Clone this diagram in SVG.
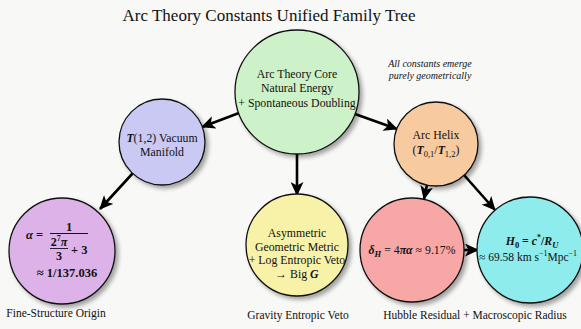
<svg xmlns="http://www.w3.org/2000/svg" width="581" height="329" viewBox="0 0 581 329">
<style>
text{font-family:"Liberation Serif","Times New Roman",serif;fill:#111}
.t{font-size:11.8px;text-anchor:middle}
.lab{font-size:11.5px;text-anchor:middle}
.node{stroke:#111;stroke-width:1.3}
.conn{stroke:#000;stroke-width:2.6;fill:none}
.bi{font-weight:bold;font-style:italic}
.b{font-weight:bold}
.it{font-style:italic}
</style>
<defs>
<marker id="ah" markerUnits="userSpaceOnUse" markerWidth="15" markerHeight="13" refX="13" refY="6.5" orient="auto">
<path d="M0,0 L14,6.5 L0,13 L3.5,6.5 Z" fill="#000"/>
</marker>
<filter id="sh" x="-20%" y="-20%" width="150%" height="150%">
<feGaussianBlur in="SourceAlpha" stdDeviation="2"/>
<feOffset dx="2.5" dy="2.5" result="o"/>
<feComponentTransfer><feFuncA type="linear" slope="0.35"/></feComponentTransfer>
<feMerge><feMergeNode/><feMergeNode in="SourceGraphic"/></feMerge>
</filter>
</defs>
<rect width="581" height="329" fill="#f8f8f6"/>
<text x="269" y="21" style="font-size:17px;text-anchor:middle">Arc Theory Constants Unified Family Tree</text>
<g id="connectors">
<line class="conn" x1="239" y1="113" x2="202" y2="127" marker-end="url(#ah)"/>
<line class="conn" x1="355" y1="114" x2="397" y2="129" marker-end="url(#ah)"/>
<line class="conn" x1="297" y1="154" x2="297" y2="195" marker-end="url(#ah)"/>
<line class="conn" x1="133" y1="173" x2="100" y2="209" marker-end="url(#ah)"/>
<line class="conn" x1="427" y1="185" x2="424" y2="199" marker-end="url(#ah)"/>
<line class="conn" x1="464" y1="175" x2="495" y2="210" marker-end="url(#ah)"/>
<line class="conn" x1="464" y1="250" x2="478" y2="250" marker-end="url(#ah)"/>
</g>
<g id="core">
<circle class="node" cx="297" cy="92" r="62" fill="#cdf1c8" filter="url(#sh)"/>
<text class="t" x="297" y="78">Arc Theory Core</text>
<text class="t" x="297" y="92">Natural Energy</text>
<text class="t" x="297" y="107">+ Spontaneous Doubling</text>
</g>
<g id="note">
<text x="430" y="67" class="it" style="font-size:10px;text-anchor:middle">All constants emerge</text>
<text x="430" y="79" class="it" style="font-size:10px;text-anchor:middle">purely geometrically</text>
</g>
<g id="vacuum">
<circle class="node" cx="162" cy="142" r="43" fill="#c9c9f4" filter="url(#sh)"/>
<text class="t" x="162" y="142"><tspan class="bi">T</tspan>(1,2) Vacuum</text>
<text class="t" x="162" y="156">Manifold</text>
</g>
<g id="helix">
<circle class="node" cx="436" cy="144" r="42" fill="#f8caa0" filter="url(#sh)"/>
<text class="t" x="436" y="139">Arc Helix</text>
<text class="t" x="436" y="154">(<tspan class="bi">T</tspan><tspan style="font-size:8.5px" dy="3">0,1</tspan><tspan dy="-3">/</tspan><tspan class="bi">T</tspan><tspan style="font-size:8.5px" dy="3">1,2</tspan><tspan dy="-3">)</tspan></text>
</g>
<g id="alpha">
<circle class="node" cx="62" cy="251" r="53" fill="#dcb2e8" filter="url(#sh)"/>
<text x="26" y="239" style="font-size:12.5px"><tspan class="bi">α</tspan><tspan class="b"> =</tspan></text>
<line x1="50" y1="233.5" x2="88" y2="233.5" stroke="#111" stroke-width="1"/>
<text x="69" y="231" class="b" style="font-size:12.5px;text-anchor:middle">1</text>
<text x="59" y="246" class="b" style="font-size:12px;text-anchor:middle">2<tspan style="font-size:8px" dy="-5">7</tspan><tspan class="bi" dy="5">π</tspan></text>
<line x1="50" y1="248.5" x2="68" y2="248.5" stroke="#111" stroke-width="0.9"/>
<text x="59" y="260" class="b" style="font-size:12px;text-anchor:middle">3</text>
<text x="71" y="254" class="b" style="font-size:12.5px">+ 3</text>
<text x="67" y="277" class="b" style="font-size:12.5px;text-anchor:middle">≈ 1/137.036</text>
<text class="lab" x="56" y="317">Fine-Structure Origin</text>
</g>
<g id="gravity">
<circle class="node" cx="297" cy="245" r="51" fill="#f8f1a8" filter="url(#sh)"/>
<text class="t" x="297" y="237">Asymmetric</text>
<text class="t" x="297" y="251">Geometric Metric</text>
<text class="t" x="297" y="264">+ Log Entropic Veto</text>
<text class="t" x="297" y="278">→ Big <tspan class="bi">G</tspan></text>
<text class="lab" x="298" y="319">Gravity Entropic Veto</text>
</g>
<g id="hubble-residual">
<circle class="node" cx="412" cy="250" r="52" fill="#f8a7a7" filter="url(#sh)"/>
<text class="t" x="412" y="254"><tspan class="bi">δ</tspan><tspan class="bi" style="font-size:8.5px" dy="3">H</tspan><tspan dy="-3"> = 4</tspan><tspan class="bi">πα</tspan> ≈ 9.17%</text>
</g>
<g id="hubble-radius">
<circle class="node" cx="530" cy="250" r="53" fill="#8eeced" filter="url(#sh)"/>
<text class="t b" x="532" y="245"><tspan class="bi">H</tspan><tspan style="font-size:8.5px" dy="3">0</tspan><tspan dy="-3"> = </tspan><tspan class="bi">c</tspan><tspan style="font-size:8px" dy="-5">*</tspan><tspan dy="5">/</tspan><tspan class="bi">R</tspan><tspan class="bi" style="font-size:8.5px" dy="3">U</tspan></text>
<text x="479" y="261" style="font-size:11.5px">≈ 69.58 km s<tspan style="font-size:8px" dy="-5">−1</tspan><tspan dy="5">Mpc</tspan><tspan style="font-size:8px" dy="-5">−1</tspan></text>
</g>
<text class="lab" x="475" y="319">Hubble Residual + Macroscopic Radius</text>
</svg>
